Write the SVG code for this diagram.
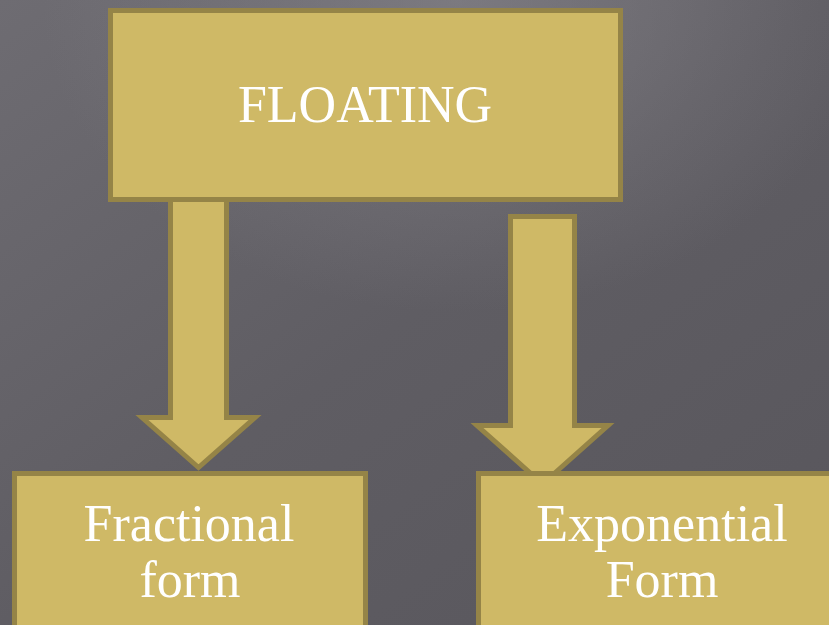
<svg xmlns="http://www.w3.org/2000/svg" width="829" height="625" viewBox="0 0 829 625">
  <defs>
    <linearGradient id="bg" x1="0" y1="0" x2="1" y2="1">
      <stop offset="0" stop-color="#6e6c72"/>
      <stop offset="0.5" stop-color="#5f5d63"/>
      <stop offset="1" stop-color="#58565c"/>
    </linearGradient>
    <radialGradient id="glow" cx="0.55" cy="0" r="0.5">
      <stop offset="0" stop-color="#8a888e" stop-opacity="0.6"/>
      <stop offset="1" stop-color="#8a888e" stop-opacity="0"/>
    </radialGradient>
    <style>
      .box { fill: #CFB966; stroke: #958447; stroke-width: 5; }
      .arrow { fill: #CFB966; stroke: #958447; stroke-width: 5; stroke-linejoin: miter; }
      .label { fill: #ffffff; font-family: "Liberation Serif", "DejaVu Serif", serif; font-size: 52px; text-anchor: middle; }
    </style>
  </defs>
  <rect x="0" y="0" width="829" height="625" fill="url(#bg)"/>
  <rect x="0" y="0" width="829" height="625" fill="url(#glow)"/>

  <g id="connectors">
    <polygon class="arrow" points="170.5,195 226.5,195 226.5,417.5 255,417.5 198.5,467.5 142,417.5 170.5,417.5"/>
    <polygon class="arrow" points="510.5,216.5 574.5,216.5 574.5,425.5 608,425.5 542.5,484 477,425.5 510.5,425.5"/>
  </g>

  <g id="floating">
    <rect class="box" x="110.5" y="10.5" width="510" height="189"/>
    <text class="label" x="365" y="122">FLOATING</text>
  </g>

  <g id="fractional">
    <rect class="box" x="14.5" y="473.5" width="351" height="200"/>
    <text class="label" x="189" y="541">Fractional</text>
    <text class="label" x="190" y="597">form</text>
  </g>

  <g id="exponential">
    <rect class="box" x="478.5" y="473.5" width="400" height="200"/>
    <text class="label" x="662" y="541">Exponential</text>
    <text class="label" x="662" y="597">Form</text>
  </g>
</svg>
